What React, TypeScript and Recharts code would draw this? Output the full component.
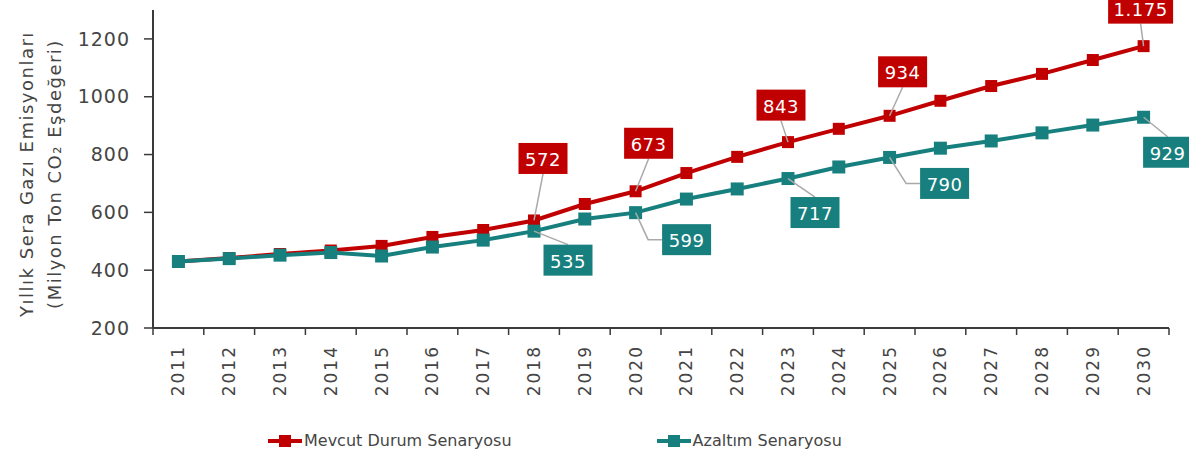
import { LabelList, Line, LineChart, XAxis, YAxis } from 'recharts'

const YEARS = [2011, 2012, 2013, 2014, 2015, 2016, 2017, 2018, 2019, 2020, 2021, 2022, 2023, 2024, 2025, 2026, 2027, 2028, 2029, 2030]
const MEVCUT = [430, 442, 456, 468, 484, 515, 539, 572, 629, 673, 736, 792, 843, 889, 934, 986, 1037, 1079, 1127, 1175]
const AZALTIM = [430, 440, 452, 461, 449, 480, 504, 535, 577, 599, 646, 681, 717, 757, 790, 822, 847, 875, 902, 929]
const LABELED_YEARS = [2018, 2020, 2023, 2025, 2030]
const Y_TICKS = [200, 400, 600, 800, 1000, 1200]
const SERIES_NAMES = ['Mevcut Durum Senaryosu', 'Azaltım Senaryosu']
const Y_TITLE = ['Yıllık Sera Gazı Emisyonları', '(Milyon Ton CO₂ Eşdeğeri)']

const RED = '#C00000'
const TEAL = '#17807E'
const AXIS = '#3A3A3A'
const TEXT = '#454545'
const LEADER = '#A9A9A9'
const FONT = '"DejaVu Sans", sans-serif'

const data = YEARS.map((year, i) => ({ year, mevcut: MEVCUT[i], azaltim: AZALTIM[i] }))

// yıl merkezleri + aralarındaki sınır çizgileri (Excel tarzı tick'ler)
const X_TICKS = [YEARS[0] - 0.5, ...YEARS.flatMap((y) => [y, y + 0.5])]

// kutu konumu noktaya göre [dx, dy]; elbow = yatay kırılmalı çizgi
const CALLOUTS: Record<string, Record<number, [number, number, boolean?]>> = {
  mevcut: { 2018: [9, -62], 2020: [13, -48], 2023: [-7, -37], 2025: [13, -44], 2030: [-3, -38] },
  azaltim: { 2018: [34, 29], 2020: [51, 27, true], 2023: [27, 34], 2025: [55, 26, true], 2030: [24, 35] },
}

const fmt = (v: number) => String(v).replace(/\B(?=(\d{3})+(?!\d))/g, '.')

function Callout(props: any, key: string, color: string) {
  const { x, y, value, index } = props
  const year = YEARS[index]
  if (!LABELED_YEARS.includes(year)) return null
  const [dx, dy, elbow] = CALLOUTS[key][year]
  const text = fmt(value)
  const digits = text.replace(/\D/g, '').length
  const w = digits * 13 + 10 + (text.length - digits) * 3
  const h = 31
  const cx = x + dx
  const cy = y + dy
  const left = cx - w / 2
  const top = cy - h / 2
  let leader: string
  if (dy < 0) leader = `M${x},${y} L${cx},${top + h}`
  else if (elbow) leader = `M${x},${y} L${left - 14},${cy} L${left},${cy}`
  else leader = `M${x},${y} L${cx},${top}`
  return (
    <g key={`${key}-${index}`}>
      <path d={leader} stroke={LEADER} strokeWidth={1.5} fill="none" />
      <rect x={left} y={top} width={w} height={h} fill={color} />
      <text x={cx} y={cy + 1} textAnchor="middle" dominantBaseline="central" fill="#fff" fontFamily={FONT} fontSize={18} letterSpacing={0.5}>
        {text}
      </text>
    </g>
  )
}

function SquareDot(size: number, color: string) {
  return (p: any) => (
    <rect key={`dot-${color}-${p.index}`} x={p.cx - size / 2} y={p.cy - size / 2} width={size} height={size} fill={color} />
  )
}

function YearTick({ x, y, payload }: any) {
  const v = payload.value
  if (!Number.isInteger(v)) {
    return <line x1={x} x2={x} y1={y} y2={y + 7} stroke={AXIS} strokeWidth={1.5} />
  }
  const ty = y + 17
  return (
    <text x={x} y={ty} transform={`rotate(-90 ${x} ${ty})`} textAnchor="end" dominantBaseline="central" fill={TEXT} fontFamily={FONT} fontSize={17} letterSpacing={2}>
      {v}
    </text>
  )
}

function YTitle() {
  return (
    <g fill={TEXT} fontFamily={FONT} fontSize={18} letterSpacing={1.5}>
      <text x={26} y={174} transform="rotate(-90 26 174)" textAnchor="middle" dominantBaseline="central">{Y_TITLE[0]}</text>
      <text x={54} y={174} transform="rotate(-90 54 174)" textAnchor="middle" dominantBaseline="central">{Y_TITLE[1]}</text>
    </g>
  )
}

function LegendIcon({ color }: { color: string }) {
  return (
    <svg width={34} height={14} style={{ display: 'block' }}>
      <line x1={0} x2={34} y1={7} y2={7} stroke={color} strokeWidth={4} />
      <rect x={11} y={1} width={12} height={12} fill={color} />
    </svg>
  )
}

export default function App() {
  return (
    <div style={{ position: 'absolute', left: 0, top: 0, width: 1189, height: 462, background: '#fff' }}>
      <LineChart width={1189} height={462} data={data} margin={{ top: 10, right: 20, left: 0, bottom: 54 }}>
        <XAxis
          dataKey="year"
          type="number"
          domain={[YEARS[0] - 0.5, YEARS[YEARS.length - 1] + 0.5]}
          ticks={X_TICKS}
          interval={0}
          tick={<YearTick />}
          tickLine={false}
          tickSize={0}
          tickMargin={0}
          height={80}
          axisLine={{ stroke: AXIS, strokeWidth: 2 }}
        />
        <YAxis
          type="number"
          domain={[200, 1300]}
          ticks={Y_TICKS}
          width={153}
          tickSize={9}
          tickMargin={14}
          tickLine={{ stroke: AXIS, strokeWidth: 1.5 }}
          axisLine={{ stroke: AXIS, strokeWidth: 2 }}
          tick={{ fill: TEXT, fontFamily: FONT, fontSize: 19, letterSpacing: 1 }}
          label={{ content: () => <YTitle /> }}
        />
        <Line
          dataKey="mevcut"
          name={SERIES_NAMES[0]}
          stroke={RED}
          strokeWidth={4}
          dot={SquareDot(12, RED)}
          activeDot={false}
          isAnimationActive={false}
        >
          <LabelList dataKey="mevcut" content={(p: any) => Callout(p, 'mevcut', RED)} />
        </Line>
        <Line
          dataKey="azaltim"
          name={SERIES_NAMES[1]}
          stroke={TEAL}
          strokeWidth={4}
          dot={SquareDot(13, TEAL)}
          activeDot={false}
          isAnimationActive={false}
        >
          <LabelList dataKey="azaltim" content={(p: any) => Callout(p, 'azaltim', TEAL)} />
        </Line>
      </LineChart>
      <div style={{ position: 'absolute', left: 268, top: 431, display: 'flex', alignItems: 'center', fontFamily: FONT, fontSize: 16, color: TEXT }}>
        <LegendIcon color={RED} />
        <span style={{ marginLeft: 2, marginRight: 145 }}>{SERIES_NAMES[0]}</span>
        <LegendIcon color={TEAL} />
        <span style={{ marginLeft: 2 }}>{SERIES_NAMES[1]}</span>
      </div>
    </div>
  )
}
